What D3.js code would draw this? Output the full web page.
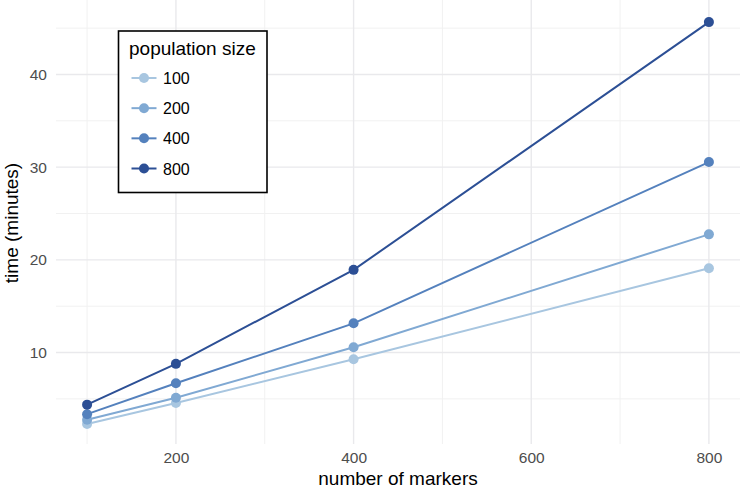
<!DOCTYPE html>
<html>
<head>
<meta charset="utf-8">
<script src="https://cdn.jsdelivr.net/npm/d3@7"></script>
<style>
  body { margin: 0; background: #fff; }
  svg { display: block; font-family: "Liberation Sans", Arial, sans-serif; }
</style>
</head>
<body>
<svg id="chart" width="742" height="489"></svg>
<script>
// ---- data ----
const markers = [100, 200, 400, 800];
const popSizes = ["100", "200", "400", "800"];
const time100 = [2.3, 4.55, 9.27, 19.1];
const time200 = [2.75, 5.13, 10.57, 22.75];
const time400 = [3.35, 6.68, 13.15, 30.55];
const time800 = [4.38, 8.78, 18.92, 45.65];
const seriesValues = [time100, time200, time400, time800];
const colors = ["#a8c6e0", "#80a9d3", "#5481bd", "#2c4f95"];
const xMajorTicks = [200, 400, 600, 800];
const xMinorTicks = [100, 300, 500, 700];
const yMajorTicks = [10, 20, 30, 40];
const yMinorTicks = [5, 15, 25, 35, 45];

const svg = d3.select("#chart");
const pLeft = 56, pRight = 740, pTop = 2, pBottom = 444;

const allVals = seriesValues.flat();
const yMin = d3.min(allVals), yMax = d3.max(allVals);
const yPad = (yMax - yMin) * 0.05;
const xPad = (d3.max(markers) - d3.min(markers)) * 0.05;

const x = d3.scaleLinear().domain([d3.min(markers) - xPad, d3.max(markers) + xPad]).range([pLeft, pRight]);
const y = d3.scaleLinear().domain([yMin - yPad, yMax + yPad]).range([pBottom, pTop]);

// grid
const grid = svg.append("g");
grid.selectAll(".xminor").data(xMinorTicks).join("line")
  .attr("x1", d => x(d)).attr("x2", d => x(d)).attr("y1", 0).attr("y2", pBottom)
  .attr("stroke", "#f1f1f1").attr("stroke-width", 1);
grid.selectAll(".yminor").data(yMinorTicks).join("line")
  .attr("y1", d => y(d)).attr("y2", d => y(d)).attr("x1", pLeft).attr("x2", pRight)
  .attr("stroke", "#f1f1f1").attr("stroke-width", 1);
grid.selectAll(".xmajor").data(xMajorTicks).join("line")
  .attr("x1", d => x(d)).attr("x2", d => x(d)).attr("y1", 0).attr("y2", pBottom)
  .attr("stroke", "#e9e9ec").attr("stroke-width", 1.4);
grid.selectAll(".ymajor").data(yMajorTicks).join("line")
  .attr("y1", d => y(d)).attr("y2", d => y(d)).attr("x1", pLeft).attr("x2", pRight)
  .attr("stroke", "#e9e9ec").attr("stroke-width", 1.4);

// axes (labels only)
const xAxis = d3.axisBottom(x).tickValues(xMajorTicks).tickSize(0).tickPadding(8);
const gx = svg.append("g").attr("transform", `translate(0,${pBottom})`).call(xAxis);
gx.select(".domain").remove();
gx.selectAll("text").attr("fill", "#4d4d4d").style("font-size", "15.5px")
  .style("font-family", "Liberation Sans, Arial, sans-serif");

const yAxis = d3.axisLeft(y).tickValues(yMajorTicks).tickSize(0).tickPadding(9);
const gy = svg.append("g").attr("transform", `translate(${pLeft},0)`).call(yAxis);
gy.select(".domain").remove();
gy.selectAll("text").attr("fill", "#4d4d4d").style("font-size", "15.5px")
  .style("font-family", "Liberation Sans, Arial, sans-serif");

svg.append("text").attr("x", (pLeft + pRight) / 2).attr("y", 485)
  .attr("text-anchor", "middle").attr("fill", "#000").style("font-size", "19px")
  .text("number of markers");
svg.append("text").attr("transform", `translate(18,${(pTop + pBottom) / 2}) rotate(-90)`)
  .attr("text-anchor", "middle").attr("fill", "#000").style("font-size", "19px")
  .text("time (minutes)");

// lines and points
const line = d3.line().x((d, i) => x(markers[i])).y(d => y(d));
seriesValues.forEach((vals, s) => {
  svg.append("path").datum(vals).attr("d", line)
    .attr("fill", "none").attr("stroke", colors[s]).attr("stroke-width", 2);
});
seriesValues.forEach((vals, s) => {
  svg.append("g").selectAll("circle").data(vals).join("circle")
    .attr("cx", (d, i) => x(markers[i])).attr("cy", d => y(d)).attr("r", 5)
    .attr("fill", colors[s]);
});

// legend
const lg = svg.append("g");
lg.append("rect").attr("x", 118.5).attr("y", 31).attr("width", 148.5).attr("height", 161.5)
  .attr("fill", "#fff").attr("stroke", "#000").attr("stroke-width", 1.6);
lg.append("text").attr("x", 129).attr("y", 55).style("font-size", "19px").attr("fill", "#000")
  .text("population size");
const keyY = d3.scalePoint().domain(popSizes).range([78, 168.5]);
popSizes.forEach((p, i) => {
  const cy = keyY(p);
  lg.append("line").attr("x1", 131.5).attr("x2", 156.5).attr("y1", cy).attr("y2", cy)
    .attr("stroke", colors[i]).attr("stroke-width", 2);
  lg.append("circle").attr("cx", 144).attr("cy", cy).attr("r", 5).attr("fill", colors[i]);
  lg.append("text").attr("x", 163).attr("y", cy + 6).style("font-size", "16px").attr("fill", "#000")
    .text(p);
});
</script>
</body>
</html>
